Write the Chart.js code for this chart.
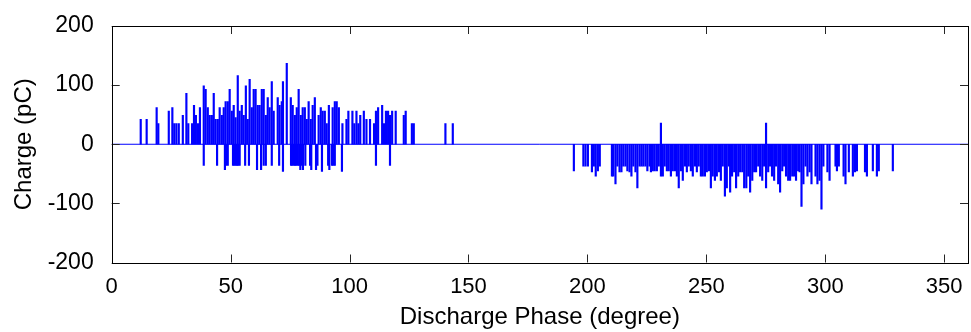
<!DOCTYPE html>
<html lang="en">
<head>
    <meta charset="UTF-8">
    <title>Discharge phase</title>
    <script src="https://cdn.jsdelivr.net/npm/chart.js"></script>
    <style>
        html, body { margin: 0; padding: 0; background: #fff; }
        #wrap { width: 971px; height: 332px; }
    </style>
</head>
<body>
    <div id="wrap"><canvas id="pdChart"></canvas></div>

    <script>
        // positive discharges
        const posPhase = [12.2, 14.7, 18.9, 19.6, 24.0, 25.5, 26.3, 27.2, 28.2, 29.9, 31.4, 32.2, 33.8, 34.6, 35.4, 36.3, 37.1,
            38.7, 39.5, 40.4, 41.2, 42.1, 42.9, 43.7, 44.6, 45.4, 46.3, 47.1, 47.9, 48.8, 49.6, 50.5, 51.3, 52.1, 53.0, 53.8,
            54.7, 55.5, 56.4, 57.2, 58.0, 58.9, 59.7, 60.5, 61.4, 62.2, 63.1, 63.9, 64.8, 65.6, 66.4, 67.3, 68.1, 69.8, 70.6,
            71.5, 72.0, 73.6, 75.3, 76.1, 77.0, 77.8, 78.6, 79.5, 80.3, 81.2, 82.0, 82.8, 83.7, 84.5, 85.4, 87.0, 87.9, 88.7,
            89.6, 90.4, 91.3, 92.9, 93.8, 94.6, 95.5, 97.0, 98.7, 99.5, 101.2, 102.0, 102.9, 103.7, 104.5, 106.0, 107.1,
            108.6, 110.3, 111.1, 112.0, 113.7, 114.5, 115.3, 116.2, 117.0, 117.9, 119.4, 122.8, 123.6, 126.2, 127.0,
            140.3, 143.4, 230.9, 275.1];
        const posCharge = [42, 42, 62, 35, 56, 62, 35, 35, 35, 49, 86, 35, 35, 66, 49, 35, 62,
            99, 93, 62, 49, 49, 86, 42, 42, 62, 49, 62, 72, 72, 93, 56, 66, 45, 116, 56,
            66, 49, 99, 42, 110, 62, 93, 93, 66, 66, 93, 93, 49, 79, 62, 106, 56, 79, 66,
            72, 106, 137, 79, 66, 49, 62, 93, 49, 62, 62, 42, 72, 42, 66, 79, 49, 62, 56,
            56, 35, 66, 62, 72, 72, 62, 35, 42, 56, 56, 35, 56, 35, 49, 56, 42,
            42, 35, 56, 62, 66, 35, 56, 56, 49, 56, 56, 49, 56, 35, 35,
            35, 35, 36, 36];

        // negative discharges
        const negPhase = [38.7, 44.3, 47.6, 48.1, 48.8, 51.0, 51.6, 52.1, 52.7, 53.2, 53.8, 56.1, 57.7, 61.1, 62.8, 63.9,
            64.8, 67.3, 70.4, 72.0, 75.4, 75.9, 76.5, 77.1, 77.6, 78.2, 78.8, 79.3, 79.9, 80.4, 81.4, 83.4, 83.9, 85.9,
            86.5, 88.4, 91.0, 91.5, 92.6, 93.2, 93.8, 96.8, 111.1, 117.0,
            194.3, 198.3, 199.2, 200.2, 201.9, 202.7, 203.5, 204.4, 205.2, 210.3, 210.9, 211.8, 212.6, 213.5, 214.3,
            215.1, 216.0, 216.8, 217.7, 218.5, 219.3, 220.2, 221.0, 221.9, 222.7, 223.5, 224.4, 225.2, 226.1, 226.7,
            227.5, 228.3, 229.2, 230.0, 230.9, 231.7, 232.5, 233.4, 234.2, 235.1, 235.9, 236.8, 237.6, 238.4, 239.3,
            240.1, 241.0, 241.8, 242.6, 243.5, 244.3, 245.2, 246.0, 246.8, 247.7, 248.5, 249.4, 250.2, 251.1, 251.9,
            252.7, 253.6, 254.4, 255.3, 256.1, 256.9, 257.8, 258.6, 259.5, 260.0, 260.8, 261.7, 262.5, 263.4, 264.2,
            265.1, 265.9, 266.8, 267.6, 268.4, 269.3, 270.1, 270.9, 271.8, 272.6, 273.5, 274.3, 275.1, 276.0, 276.8,
            277.6, 278.5, 279.3, 280.2, 281.0, 281.9, 282.7, 283.5, 284.4, 285.2, 286.1, 286.9, 287.7, 288.6, 289.2,
            290.0, 290.8, 291.7, 292.5, 293.4, 294.2, 295.9, 296.7, 297.6, 298.4, 299.2, 300.9, 301.8, 304.3, 304.9,
            305.7, 307.7, 308.5, 309.9, 311.6, 312.5, 313.3, 316.7, 317.5, 320.0, 321.7, 322.5, 328.4];
        const negCharge = [-36, -36, -43, -36, -36, -36, -36, -36, -36, -36, -36, -36, -36, -43, -43, -36,
            -36, -36, -36, -46, -36, -36, -36, -36, -36, -36, -36, -43, -36, -43, -36, -36, -43, -43,
            -36, -46, -36, -43, -36, -36, -36, -46, -36, -36,
            -45, -37, -37, -37, -47, -37, -54, -45, -37, -54, -54, -67, -37, -47, -47,
            -37, -37, -45, -47, -54, -37, -47, -74, -37, -37, -37, -37, -45, -37, -47,
            -45, -45, -45, -37, -54, -54, -37, -45, -45, -54, -45, -45, -54, -74, -45,
            -61, -37, -47, -37, -45, -54, -37, -47, -37, -54, -54, -54, -47, -45, -74,
            -54, -61, -54, -47, -61, -37, -88, -74, -37, -81, -54, -47, -74, -54, -47,
            -47, -74, -74, -54, -81, -61, -47, -47, -37, -54, -61, -37, -74, -47, -37,
            -54, -61, -37, -67, -81, -45, -37, -54, -61, -61, -54, -54, -61, -45, -47,
            -105, -67, -37, -54, -47, -67, -54, -67, -61, -110, -37, -47, -61, -37, -45,
            -37, -54, -67, -47, -54, -47, -45, -47, -54, -45, -54, -45, -45];

        const xTicks = [0, 50, 100, 150, 200, 250, 300, 350];
        const yTicks = [-200, -100, 0, 100, 200];

        const toPoints = (xs, ys) => xs.map((x, i) => ({ x: x, y: ys[i] }));

        // box around the plot with inward ticks, MATLAB style
        const boxPlugin = {
            id: 'box',
            afterDatasetsDraw(chart) {
                const ctx = chart.ctx;
                const a = chart.chartArea;
                const xs = chart.scales.x;
                const ys = chart.scales.y;
                const len = 8;
                ctx.save();
                ctx.strokeStyle = '#262626';
                ctx.lineWidth = 1;
                ctx.beginPath();
                xTicks.forEach(v => {
                    const px = Math.round(xs.getPixelForValue(v)) + 0.5;
                    ctx.moveTo(px, a.bottom); ctx.lineTo(px, a.bottom - len);
                    ctx.moveTo(px, a.top); ctx.lineTo(px, a.top + len);
                });
                yTicks.forEach(v => {
                    const py = Math.round(ys.getPixelForValue(v)) + 0.5;
                    ctx.moveTo(a.left, py); ctx.lineTo(a.left + len, py);
                    ctx.moveTo(a.right, py); ctx.lineTo(a.right - len, py);
                });
                ctx.stroke();
                ctx.strokeStyle = '#000';
                ctx.strokeRect(Math.round(a.left) + 0.5, Math.round(a.top) + 0.5,
                    Math.round(a.right - a.left), Math.round(a.bottom - a.top));
                ctx.restore();
            }
        };

        const family = "'Liberation Sans', Arial, sans-serif";

        const ctx = document.getElementById('pdChart').getContext('2d');
        new Chart(ctx, {
            type: 'bar',
            data: {
                datasets: [{
                    label: 'Positive',
                    data: toPoints(posPhase, posCharge),
                    backgroundColor: '#0000ff',
                    barThickness: 1.5,
                    grouped: false
                }, {
                    label: 'Negative',
                    data: toPoints(negPhase, negCharge),
                    backgroundColor: '#0000ff',
                    barThickness: 1.5,
                    grouped: false
                }, {
                    type: 'line',
                    label: 'Baseline',
                    data: [{ x: 0, y: 0 }, { x: 360, y: 0 }],
                    borderColor: '#0000ff',
                    borderWidth: 1,
                    pointRadius: 0
                }]
            },
            options: {
                responsive: true,
                maintainAspectRatio: false,
                animation: false,
                layout: { padding: { left: 0, right: 3, top: 26, bottom: 0 } },
                plugins: {
                    legend: { display: false },
                    tooltip: { enabled: false }
                },
                scales: {
                    x: {
                        type: 'linear',
                        min: 0,
                        max: 360,
                        offset: false,
                        grid: { display: false },
                        border: { display: false },
                        afterBuildTicks: s => { s.ticks = xTicks.map(v => ({ value: v })); },
                        afterFit: s => { s.height = 69.5; },
                        ticks: { font: { family: family, size: 22 }, color: '#000', padding: 3, maxRotation: 0 },
                        title: {
                            display: true,
                            text: 'Discharge Phase (degree)',
                            font: { family: family, size: 24 },
                            color: '#000',
                            padding: { top: 0, bottom: 0 }
                        }
                    },
                    y: {
                        min: -200,
                        max: 200,
                        grid: { display: false },
                        border: { display: false },
                        afterBuildTicks: s => { s.ticks = yTicks.map(v => ({ value: v })); },
                        afterFit: s => { s.width = 111.7; },
                        ticks: { font: { family: family, size: 23 }, color: '#000', padding: 10 },
                        title: {
                            display: true,
                            text: 'Charge (pC)',
                            font: { family: family, size: 24 },
                            color: '#000',
                            padding: { top: 10, bottom: 0 }
                        }
                    }
                }
            },
            plugins: [boxPlugin]
        });
    </script>
</body>
</html>
